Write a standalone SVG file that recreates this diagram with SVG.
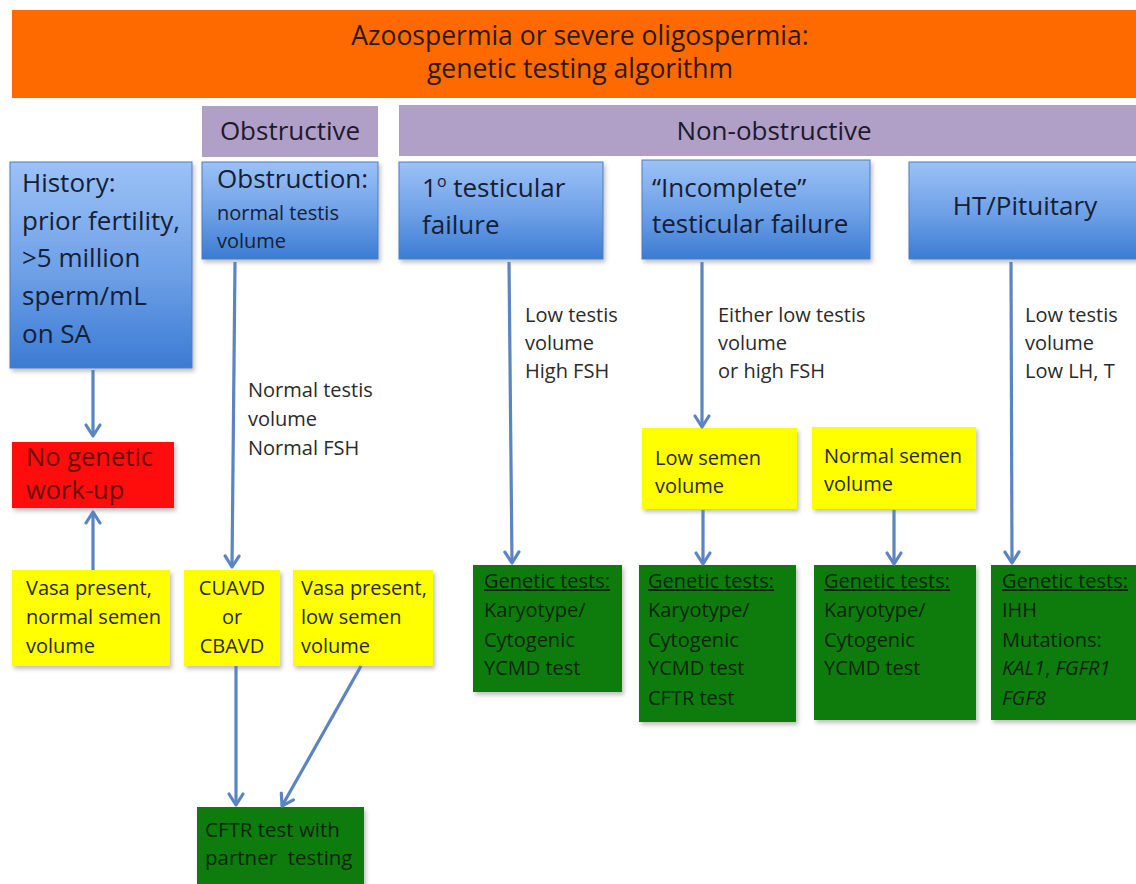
<svg xmlns="http://www.w3.org/2000/svg" width="1136" height="884" viewBox="0 0 1136 884">
<defs>
<linearGradient id="blueGrad" x1="0" y1="0" x2="0" y2="1">
<stop offset="0" stop-color="#9cc2f6"/>
<stop offset="0.55" stop-color="#6c9fe6"/>
<stop offset="1" stop-color="#3c7bd3"/>
</linearGradient>
<filter id="sh" x="-10%" y="-10%" width="130%" height="130%">
<feDropShadow dx="2" dy="3" stdDeviation="2" flood-color="#000" flood-opacity="0.25"/>
</filter>
<marker id="ah" markerUnits="userSpaceOnUse" markerWidth="20" markerHeight="20" viewBox="0 0 20 20" refX="16" refY="10" orient="auto">
<path d="M5,3 L16,10 L5,17" fill="none" stroke="#5b84c2" stroke-width="3.2" stroke-linecap="round" stroke-linejoin="round"/>
</marker>
</defs>
<style>
text{font-family:"Open Sans","Noto Sans","Liberation Sans",sans-serif;}
.big{font-size:26px;}
.sm{font-size:20px;}
.blue{fill:url(#blueGrad);stroke:#4d7cbf;stroke-width:1;filter:url(#sh);}
.purple{fill:#b09fc6;}
.yellow{fill:#ffff00;filter:url(#sh);}
.green{fill:#0b7b0b;filter:url(#sh);}
.red{fill:#ff0a0a;filter:url(#sh);}
.tb{fill:#152036;}
.tp{fill:#1e1a2c;}
.ty{fill:#2a2a14;}
.tg{fill:#0c240d;}
.tr{fill:#6a0a0a;}
.ta{fill:#2a2a2a;}
.con{fill:none;stroke:#5b84c2;stroke-width:3.2;marker-end:url(#ah);}
</style>
<rect width="1136" height="884" fill="#ffffff"/>

<g id="title">
<rect x="12" y="10" width="1124" height="88" fill="#ff6a00"/>
<text x="580" y="45" text-anchor="middle" style="font-size:26.5px;fill:#2e1a08">Azoospermia or severe oligospermia:</text>
<text x="580" y="78" text-anchor="middle" style="font-size:26.5px;fill:#2e1a08">genetic testing algorithm</text>
</g>

<g id="obstructive">
<rect class="purple" x="202" y="106" width="176" height="51"/>
<text class="big tp" x="290" y="140" text-anchor="middle">Obstructive</text>
</g>

<g id="non-obstructive">
<rect class="purple" x="399" y="105" width="737" height="51"/>
<text class="big tp" x="774" y="140" text-anchor="middle">Non-obstructive</text>
</g>

<g id="history">
<rect class="blue" x="10" y="162" width="182" height="206"/>
<text class="big tb" x="22" y="192">History:</text>
<text class="big tb" x="22" y="230">prior fertility,</text>
<text class="big tb" x="22" y="267">&gt;5 million</text>
<text class="big tb" x="22" y="305">sperm/mL</text>
<text class="big tb" x="22" y="343">on SA</text>
</g>

<g id="obstruction">
<rect class="blue" x="202" y="162" width="176" height="97"/>
<text class="big tb" x="217" y="188">Obstruction:</text>
<text class="sm tb" x="217" y="220">normal testis</text>
<text class="sm tb" x="217" y="248">volume</text>
</g>

<g id="primary-failure">
<rect class="blue" x="399" y="162" width="204" height="97"/>
<text class="big tb" x="422" y="197">1<tspan dy="-10" style="font-size:16px">o</tspan><tspan dy="10"> testicular</tspan></text>
<text class="big tb" x="422" y="234">failure</text>
</g>

<g id="incomplete-failure">
<rect class="blue" x="642" y="160" width="228" height="99"/>
<text class="big tb" x="652" y="197">“Incomplete”</text>
<text class="big tb" x="652" y="233">testicular failure</text>
</g>

<g id="ht-pituitary">
<rect class="blue" x="909" y="162" width="240" height="97"/>
<text class="big tb" x="1025" y="215" text-anchor="middle">HT/Pituitary</text>
</g>

<g id="labels">
<text class="sm ta" x="248" y="397">Normal testis</text>
<text class="sm ta" x="248" y="426">volume</text>
<text class="sm ta" x="248" y="455">Normal FSH</text>
<text class="sm ta" x="525" y="322">Low testis</text>
<text class="sm ta" x="525" y="350">volume</text>
<text class="sm ta" x="525" y="378">High FSH</text>
<text class="sm ta" x="718" y="322">Either low testis</text>
<text class="sm ta" x="718" y="350">volume</text>
<text class="sm ta" x="718" y="378">or high FSH</text>
<text class="sm ta" x="1025" y="322">Low testis</text>
<text class="sm ta" x="1025" y="350">volume</text>
<text class="sm ta" x="1025" y="378">Low LH, T</text>
</g>

<g id="no-genetic-workup">
<rect class="red" x="12" y="442" width="162" height="66"/>
<text class="tr" x="26" y="466" style="font-size:25.5px">No genetic</text>
<text class="tr" x="26" y="499" style="font-size:25.5px">work-up</text>
</g>

<g id="vasa-normal">
<rect class="yellow" x="12" y="570" width="158" height="96"/>
<text class="sm ty" x="26" y="595">Vasa present,</text>
<text class="sm ty" x="26" y="624">normal semen</text>
<text class="sm ty" x="26" y="653">volume</text>
</g>

<g id="cuavd">
<rect class="yellow" x="184" y="570" width="96" height="96"/>
<text class="sm ty" x="232" y="595" text-anchor="middle">CUAVD</text>
<text class="sm ty" x="232" y="624" text-anchor="middle">or</text>
<text class="sm ty" x="232" y="653" text-anchor="middle">CBAVD</text>
</g>

<g id="vasa-low">
<rect class="yellow" x="293" y="570" width="140" height="96"/>
<text class="sm ty" x="301" y="595">Vasa present,</text>
<text class="sm ty" x="301" y="624">low semen</text>
<text class="sm ty" x="301" y="653">volume</text>
</g>

<g id="low-semen">
<rect class="yellow" x="642" y="428" width="155" height="81"/>
<text class="sm ty" x="655" y="465">Low semen</text>
<text class="sm ty" x="655" y="493">volume</text>
</g>

<g id="normal-semen">
<rect class="yellow" x="812" y="427" width="164" height="82"/>
<text class="sm ty" x="824" y="463">Normal semen</text>
<text class="sm ty" x="824" y="491">volume</text>
</g>

<g id="tests-primary">
<rect class="green" x="473" y="565" width="149" height="127"/>
<text class="sm tg" x="484" y="588" text-decoration="underline">Genetic tests:</text>
<text class="sm tg" x="484" y="617">Karyotype/</text>
<text class="sm tg" x="484" y="647">Cytogenic</text>
<text class="sm tg" x="484" y="675">YCMD test</text>
</g>

<g id="tests-low-semen">
<rect class="green" x="639" y="565" width="157" height="157"/>
<text class="sm tg" x="648" y="588" text-decoration="underline">Genetic tests:</text>
<text class="sm tg" x="648" y="617">Karyotype/</text>
<text class="sm tg" x="648" y="647">Cytogenic</text>
<text class="sm tg" x="648" y="675">YCMD test</text>
<text class="sm tg" x="648" y="705">CFTR test</text>
</g>

<g id="tests-normal-semen">
<rect class="green" x="814" y="565" width="162" height="155"/>
<text class="sm tg" x="824" y="588" text-decoration="underline">Genetic tests:</text>
<text class="sm tg" x="824" y="617">Karyotype/</text>
<text class="sm tg" x="824" y="647">Cytogenic</text>
<text class="sm tg" x="824" y="675">YCMD test</text>
</g>

<g id="tests-ht">
<rect class="green" x="991" y="565" width="160" height="155"/>
<text class="sm tg" x="1002" y="588" text-decoration="underline">Genetic tests:</text>
<text class="sm tg" x="1002" y="617">IHH</text>
<text class="sm tg" x="1002" y="647">Mutations:</text>
<text class="sm tg" x="1002" y="675"><tspan font-style="italic">KAL1</tspan>, <tspan font-style="italic">FGFR1</tspan></text>
<text class="sm tg" x="1002" y="705" font-style="italic">FGF8</text>
</g>

<g id="cftr-partner">
<rect class="green" x="197" y="807" width="167" height="90"/>
<text class="tg" x="205" y="837" style="font-size:20.5px">CFTR test with</text>
<text class="tg" x="205" y="865" style="font-size:20.5px;white-space:pre" xml:space="preserve">partner  testing</text>
</g>

<g id="connectors">
<line class="con" x1="93" y1="370" x2="93" y2="436"/>
<line class="con" x1="93" y1="570" x2="93" y2="512"/>
<line class="con" x1="235" y1="262" x2="232" y2="567"/>
<line class="con" x1="509" y1="262" x2="512" y2="563"/>
<line class="con" x1="702" y1="262" x2="702" y2="427"/>
<line class="con" x1="1011" y1="262" x2="1012" y2="563"/>
<line class="con" x1="703" y1="510" x2="703" y2="564"/>
<line class="con" x1="894" y1="510" x2="894" y2="564"/>
<line class="con" x1="236" y1="666" x2="236" y2="805"/>
<line class="con" x1="361" y1="666" x2="282" y2="806"/>
</g>
</svg>
